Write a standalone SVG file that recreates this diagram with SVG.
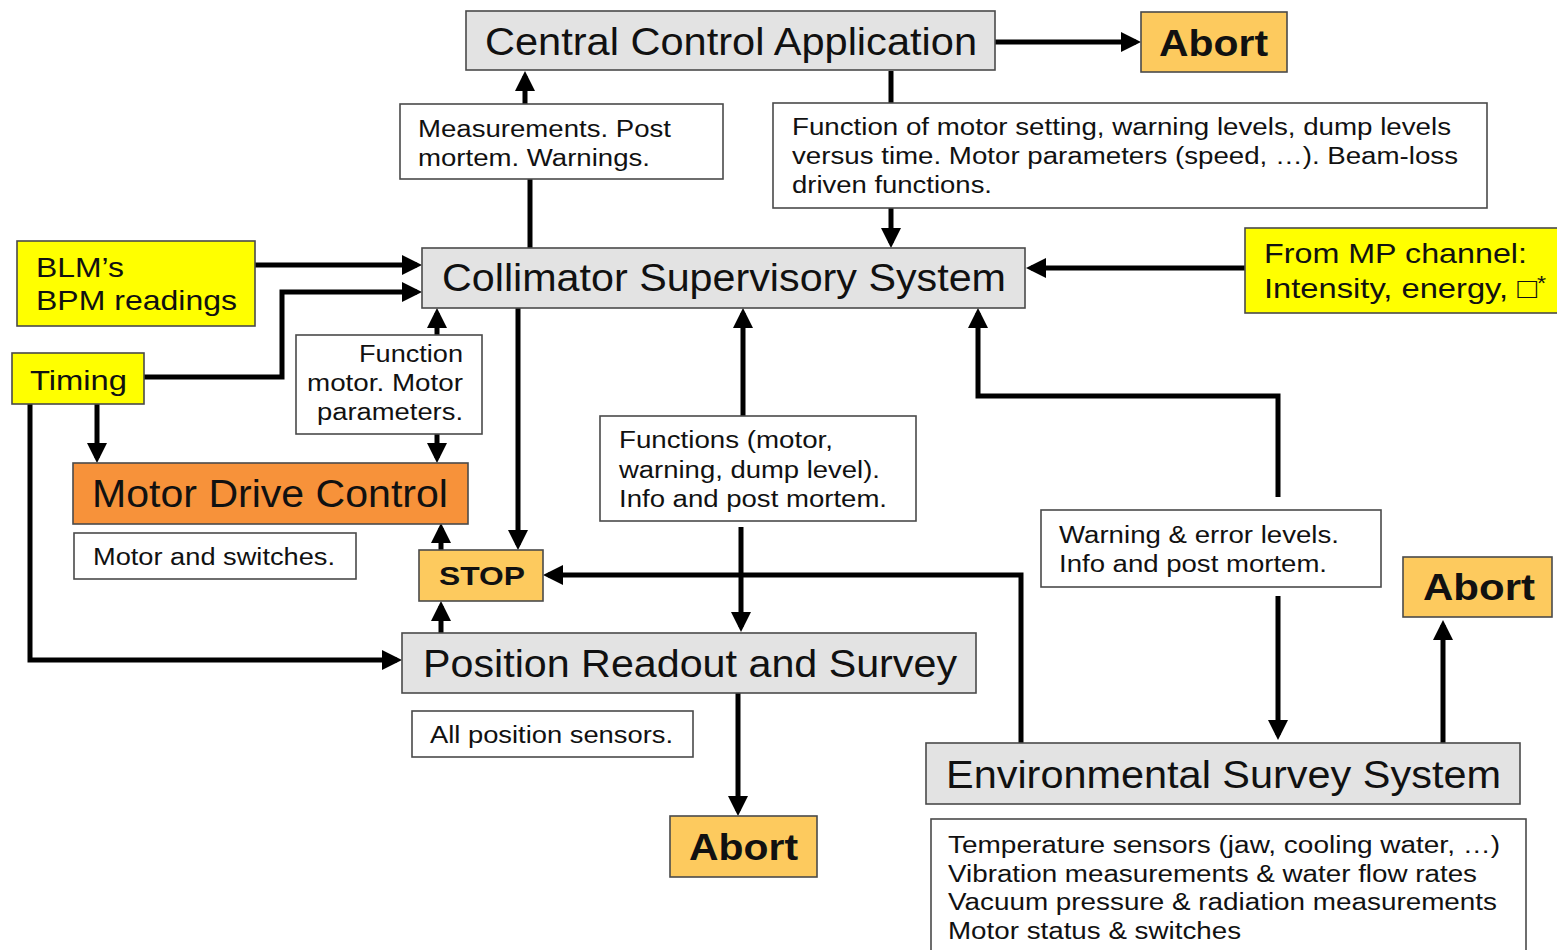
<svg xmlns="http://www.w3.org/2000/svg" width="1557" height="950" viewBox="0 0 1557 950">
<defs>
<style>
.box{stroke:#4a4a4a;stroke-width:1.6}
.gray{fill:#e3e3e3}
.white{fill:#ffffff}
.yellow{fill:#ffff00}
.amber{fill:#fdca5e}
.orange{fill:#f7923a}
text{font-family:"Liberation Sans",Arial,Helvetica,sans-serif;fill:#111111}
.big{font-size:38px}
.mid{font-size:28px}
.small{font-size:23px}
.bold{font-size:36px;font-weight:bold}
.stop{font-size:26px;font-weight:bold}
.conn{fill:none;stroke:#000000;stroke-width:5;stroke-linejoin:miter}
</style>
<marker id="ah" markerUnits="userSpaceOnUse" markerWidth="20" markerHeight="20" refX="15" refY="10" orient="auto">
<path d="M0,0 L20,10 L0,20 z" fill="#000000"/>
</marker>
</defs>
<rect width="1557" height="950" fill="#ffffff"/>

<g id="connectors">
<path class="conn" d="M995,42 L1136,42" marker-end="url(#ah)"/>
<path class="conn" d="M530,248 L530,179"/>
<path class="conn" d="M525,104 L525,76" marker-end="url(#ah)"/>
<path class="conn" d="M891,71 L891,103"/>
<path class="conn" d="M891,208 L891,243" marker-end="url(#ah)"/>
<path class="conn" d="M250,265 L417,265" marker-end="url(#ah)"/>
<path class="conn" d="M143,377 L282,377 L282,292 L417,292" marker-end="url(#ah)"/>
<path class="conn" d="M97,404 L97,458" marker-end="url(#ah)"/>
<path class="conn" d="M30,404 L30,660 L397,660" marker-end="url(#ah)"/>
<path class="conn" d="M1245,268 L1031,268" marker-end="url(#ah)"/>
<path class="conn" d="M437,335 L437,313" marker-end="url(#ah)"/>
<path class="conn" d="M437,434 L437,458" marker-end="url(#ah)"/>
<path class="conn" d="M518,308 L518,545" marker-end="url(#ah)"/>
<path class="conn" d="M441,550 L441,528" marker-end="url(#ah)"/>
<path class="conn" d="M441,633 L441,606" marker-end="url(#ah)"/>
<path class="conn" d="M743,416 L743,313" marker-end="url(#ah)"/>
<path class="conn" d="M741,527 L741,627" marker-end="url(#ah)"/>
<path class="conn" d="M1021,743 L1021,575 L548,575" marker-end="url(#ah)"/>
<path class="conn" d="M1278,497 L1278,396 L978,396 L978,313" marker-end="url(#ah)"/>
<path class="conn" d="M1278,596 L1278,735" marker-end="url(#ah)"/>
<path class="conn" d="M1443,743 L1443,625" marker-end="url(#ah)"/>
<path class="conn" d="M738,693 L738,811" marker-end="url(#ah)"/>
</g>

<g id="central-control-application">
<rect class="box gray" x="466" y="11" width="529" height="59"/>
<text class="big" x="485" y="55" textLength="492" lengthAdjust="spacingAndGlyphs">Central Control Application</text>
</g>
<g id="abort-top">
<rect class="box amber" x="1141" y="12" width="146" height="60"/>
<text class="bold" x="1159" y="56" textLength="109" lengthAdjust="spacingAndGlyphs">Abort</text>
</g>
<g id="label-measurements">
<rect class="box white" x="400" y="104" width="323" height="75"/>
<text class="small" x="418" y="137" textLength="253" lengthAdjust="spacingAndGlyphs">Measurements. Post</text>
<text class="small" x="418" y="166" textLength="232" lengthAdjust="spacingAndGlyphs">mortem. Warnings.</text>
</g>
<g id="label-function-of-motor-setting">
<rect class="box white" x="773" y="103" width="714" height="105"/>
<text class="small" x="792" y="135" textLength="659" lengthAdjust="spacingAndGlyphs">Function of motor setting, warning levels, dump levels</text>
<text class="small" x="792" y="164" textLength="666" lengthAdjust="spacingAndGlyphs">versus time. Motor parameters (speed, …). Beam-loss</text>
<text class="small" x="792" y="193" textLength="200" lengthAdjust="spacingAndGlyphs">driven functions.</text>
</g>
<g id="collimator-supervisory-system">
<rect class="box gray" x="422" y="248" width="603" height="60"/>
<text class="big" x="442" y="291" textLength="564" lengthAdjust="spacingAndGlyphs">Collimator Supervisory System</text>
</g>
<g id="blm-bpm">
<rect class="box yellow" x="17" y="241" width="238" height="85"/>
<text class="mid" x="36" y="277" textLength="88" lengthAdjust="spacingAndGlyphs">BLM’s</text>
<text class="mid" x="36" y="310" textLength="201" lengthAdjust="spacingAndGlyphs">BPM readings</text>
</g>
<g id="mp-channel">
<rect class="box yellow" x="1245" y="228" width="330" height="85"/>
<text class="mid" x="1264" y="263" textLength="263" lengthAdjust="spacingAndGlyphs">From MP channel:</text>
<text class="mid" x="1264" y="298" textLength="282" lengthAdjust="spacingAndGlyphs">Intensity, energy, □<tspan dy="-8" font-size="20">*</tspan></text>
</g>
<g id="timing">
<rect class="box yellow" x="12" y="353" width="132" height="51"/>
<text class="mid" x="30" y="390" textLength="97" lengthAdjust="spacingAndGlyphs">Timing</text>
</g>
<g id="label-function-motor">
<rect class="box white" x="296" y="335" width="186" height="99"/>
<text class="small" x="463" y="362" text-anchor="end" textLength="104" lengthAdjust="spacingAndGlyphs">Function</text>
<text class="small" x="463" y="391" text-anchor="end" textLength="156" lengthAdjust="spacingAndGlyphs">motor. Motor</text>
<text class="small" x="463" y="420" text-anchor="end" textLength="146" lengthAdjust="spacingAndGlyphs">parameters.</text>
</g>
<g id="motor-drive-control">
<rect class="box orange" x="73" y="463" width="395" height="61"/>
<text class="big" x="92" y="507" textLength="356" lengthAdjust="spacingAndGlyphs">Motor Drive Control</text>
</g>
<g id="label-motor-switches">
<rect class="box white" x="74" y="533" width="282" height="46"/>
<text class="small" x="93" y="565" textLength="242" lengthAdjust="spacingAndGlyphs">Motor and switches.</text>
</g>
<g id="stop">
<rect class="box amber" x="419" y="550" width="124" height="51"/>
<text class="stop" x="439" y="585" textLength="86" lengthAdjust="spacingAndGlyphs">STOP</text>
</g>
<g id="label-functions">
<rect class="box white" x="600" y="416" width="316" height="105"/>
<text class="small" x="619" y="448" textLength="214" lengthAdjust="spacingAndGlyphs">Functions (motor,</text>
<text class="small" x="619" y="478" textLength="261" lengthAdjust="spacingAndGlyphs">warning, dump level).</text>
<text class="small" x="619" y="507" textLength="268" lengthAdjust="spacingAndGlyphs">Info and post mortem.</text>
</g>
<g id="position-readout-survey">
<rect class="box gray" x="402" y="633" width="574" height="60"/>
<text class="big" x="423" y="677" textLength="534" lengthAdjust="spacingAndGlyphs">Position Readout and Survey</text>
</g>
<g id="label-all-position-sensors">
<rect class="box white" x="412" y="711" width="281" height="46"/>
<text class="small" x="430" y="743" textLength="243" lengthAdjust="spacingAndGlyphs">All position sensors.</text>
</g>
<g id="abort-bottom">
<rect class="box amber" x="670" y="816" width="147" height="61"/>
<text class="bold" x="689" y="860" textLength="109" lengthAdjust="spacingAndGlyphs">Abort</text>
</g>
<g id="label-warning-error">
<rect class="box white" x="1041" y="510" width="340" height="77"/>
<text class="small" x="1059" y="543" textLength="280" lengthAdjust="spacingAndGlyphs">Warning &amp; error levels.</text>
<text class="small" x="1059" y="572" textLength="268" lengthAdjust="spacingAndGlyphs">Info and post mortem.</text>
</g>
<g id="abort-right">
<rect class="box amber" x="1403" y="557" width="149" height="60"/>
<text class="bold" x="1423" y="600" textLength="112" lengthAdjust="spacingAndGlyphs">Abort</text>
</g>
<g id="environmental-survey-system">
<rect class="box gray" x="926" y="743" width="594" height="61"/>
<text class="big" x="946" y="788" textLength="555" lengthAdjust="spacingAndGlyphs">Environmental Survey System</text>
</g>
<g id="label-environmental-sensors">
<rect class="box white" x="931" y="819" width="595" height="145"/>
<text class="small" x="948" y="853" textLength="552" lengthAdjust="spacingAndGlyphs">Temperature sensors (jaw, cooling water, …)</text>
<text class="small" x="948" y="882" textLength="529" lengthAdjust="spacingAndGlyphs">Vibration measurements &amp; water flow rates</text>
<text class="small" x="948" y="910" textLength="549" lengthAdjust="spacingAndGlyphs">Vacuum pressure &amp; radiation measurements</text>
<text class="small" x="948" y="939" textLength="293" lengthAdjust="spacingAndGlyphs">Motor status &amp; switches</text>
</g>
</svg>
